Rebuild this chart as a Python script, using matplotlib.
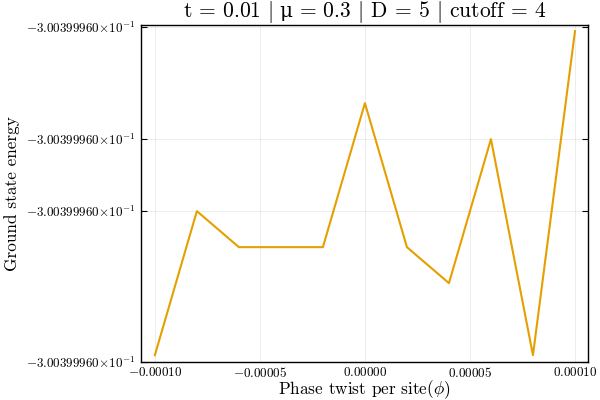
import matplotlib
matplotlib.use("Agg")
import matplotlib.pyplot as plt
from matplotlib.ticker import FixedLocator, FixedFormatter
from matplotlib.offsetbox import TextArea, HPacker, AnchoredOffsetbox

# Data
phase_twist = [-1.0e-4, -8.0e-5, -6.0e-5, -4.0e-5, -2.0e-5, 0.0,
               2.0e-5, 4.0e-5, 6.0e-5, 8.0e-5, 1.0e-4]
# ground state energy = -3.00399960e-1 + offset (offsets in units of ~1 ULP)
energy_offset = [0, 4, 3, 3, 3, 7, 3, 2, 6, 0, 9]
ytick_positions = [-0.19, 4, 6, 9.11]
ytick_labels = [r"$-3.00399960{\times}10^{-1}$"] * 4
xtick_positions = [-1.0e-4, -5.0e-5, 0.0, 5.0e-5, 1.0e-4]
xtick_labels = [r"$-0.00010$", r"$-0.00005$", r"$0.00000$", r"$0.00005$", r"$0.00010$"]
title_parts = ["t = 0.01 $|$", "μ", "= 0.3 $|$ D = 5 $|$ cutoff = 4"]

plt.rcParams['font.family'] = ['cmr10', 'DejaVu Serif']
plt.rcParams['mathtext.fontset'] = 'cm'
plt.rcParams['axes.unicode_minus'] = False

fig = plt.figure(figsize=(6, 4), dpi=100)
ax = fig.add_axes([141/600, 38/400, (588-141)/600, (362-25)/400])

ax.plot(phase_twist, energy_offset, color='#e69f00', linewidth=1.5)

ax.set_xlim(-1.066e-4, 1.062e-4)
ax.set_ylim(-0.19, 9.17)

ax.xaxis.set_major_locator(FixedLocator(xtick_positions))
ax.xaxis.set_major_formatter(FixedFormatter(xtick_labels))
ax.yaxis.set_major_locator(FixedLocator(ytick_positions))
ax.yaxis.set_major_formatter(FixedFormatter(ytick_labels))

ax.tick_params(axis='both', direction='in', length=4, width=0.8, labelsize=9.4,
               top=True, right=True, colors='black')
ax.tick_params(axis='x', pad=3, length=0)
ax.tick_params(axis='y', pad=4)
ax.grid(True, color='black', alpha=0.1, linewidth=0.5)

for s in ax.spines.values():
    s.set_linewidth(1.0)
    s.set_color('black')

# Title with an upright mu (built from pieces)
fs = 15.5
parts = [
    TextArea(title_parts[0], textprops=dict(fontsize=fs, family=['cmr10'])),
    TextArea(title_parts[1], textprops=dict(fontsize=fs - 1, family=['DejaVu Serif'])),
    TextArea(title_parts[2], textprops=dict(fontsize=fs, family=['cmr10'])),
]
pack = HPacker(children=parts, align="baseline", pad=0, sep=4.5)
title_box = AnchoredOffsetbox(loc='lower center', child=pack, pad=0, borderpad=0,
                              frameon=False, bbox_to_anchor=(0.5, 1.0),
                              bbox_transform=ax.transAxes)
ax.add_artist(title_box)

ax.set_xlabel(r"Phase twist per site($\phi$)", fontsize=12.4)
ax.xaxis.set_label_coords(0.5, -(378 - 362) / 337)
ax.set_ylabel("Ground state energy", fontsize=12.4)
ax.yaxis.set_label_coords(-(141 - 20) / 447, 0.5)

fig.savefig("out.png", dpi=100)
